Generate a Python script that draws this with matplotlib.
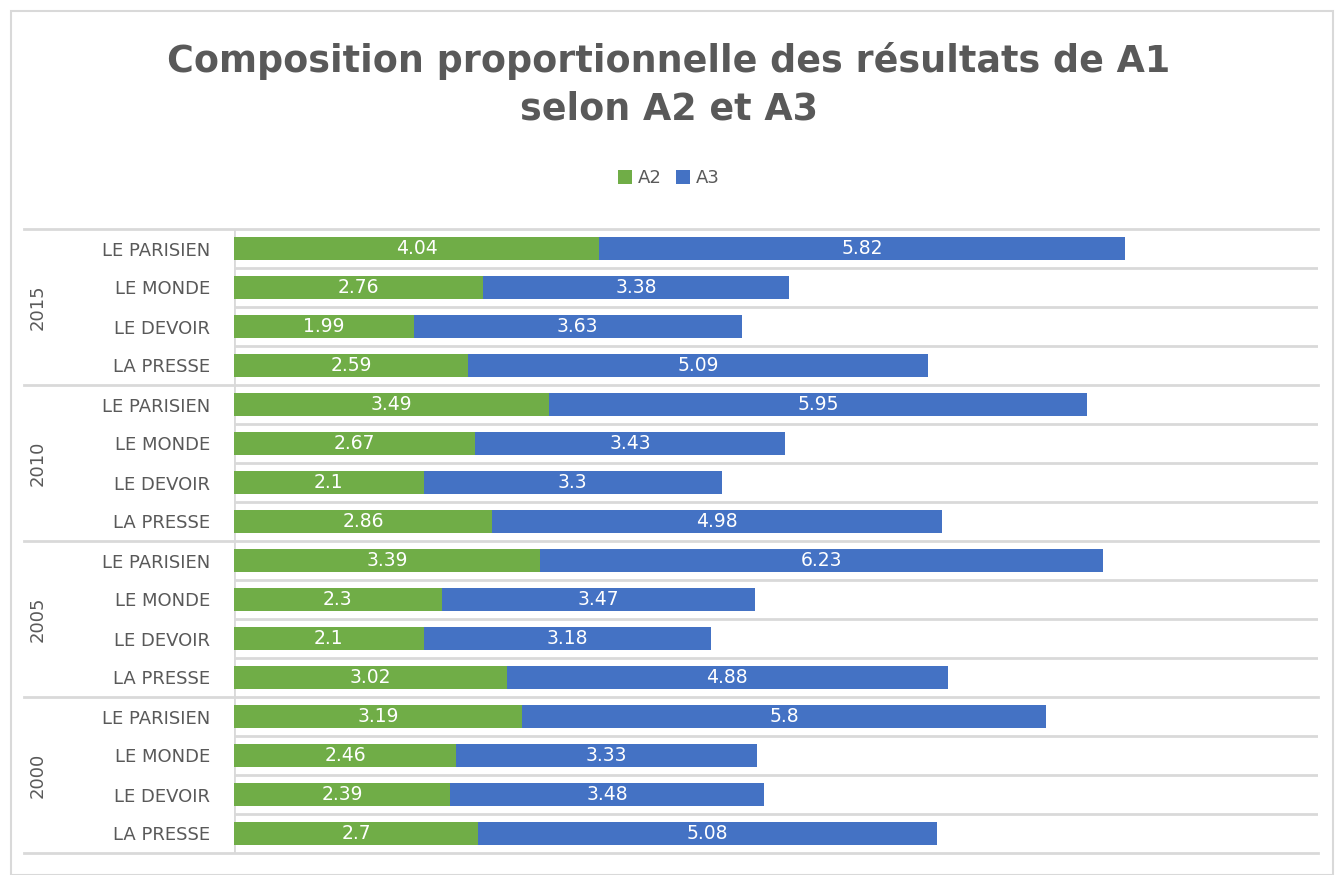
import numpy as np
import matplotlib.pyplot as plt
from matplotlib.patches import Rectangle

# data, top group first (as displayed)
years = ['2015', '2010', '2005', '2000']
journaux = ['LE PARISIEN', 'LE MONDE', 'LE DEVOIR', 'LA PRESSE']
a2 = [[4.04, 2.76, 1.99, 2.59],
      [3.49, 2.67, 2.1, 2.86],
      [3.39, 2.3, 2.1, 3.02],
      [3.19, 2.46, 2.39, 2.7]]
a3 = [[5.82, 3.38, 3.63, 5.09],
      [5.95, 3.43, 3.3, 4.98],
      [6.23, 3.47, 3.18, 4.88],
      [5.8, 3.33, 3.48, 5.08]]

green = '#70AD47'
blue = '#4472C4'
grid = '#D9D9D9'
txt = '#595959'

fig = plt.figure(figsize=(13.37, 8.75), dpi=100)
fig.patches.append(Rectangle((11/1337, 0), 1 - 15/1337, 1 - 11/875, transform=fig.transFigure,
                             fill=False, edgecolor=grid, lw=1.5))
ax = fig.add_axes([234/1337, 1 - 853/875, (1318 - 234)/1337, (853 - 229)/875])

n = len(years) * len(journaux)
v2, v3, labs, ypos = [], [], [], []
for g in range(len(years)):
    for j in range(len(journaux)):
        v2.append(a2[g][j])
        v3.append(a3[g][j])
        labs.append(journaux[j])
        ypos.append(n - 1 - (g * len(journaux) + j))
v2 = np.array(v2); v3 = np.array(v3); ypos = np.array(ypos)

b1 = ax.barh(ypos, v2, height=0.57, color=green, label='A2', zorder=3)
b2 = ax.barh(ypos, v3, left=v2, height=0.57, color=blue, label='A3', zorder=3)
for bars, vals in ((b1, v2), (b2, v3)):
    ax.bar_label(bars, labels=['%g' % v for v in vals], label_type='center',
                 color='white', fontsize=13.5, zorder=4)

ax.set_xlim(0, 12)
ax.set_ylim(-0.5, n - 0.5)
ax.set_xticks([])
ax.set_yticks(ypos)
ax.set_yticklabels(labs, fontsize=13, color=txt)
ax.tick_params(axis='y', length=0, pad=17)
for s in ax.spines.values():
    s.set_visible(False)
ax.axvline(0, color=grid, lw=2, zorder=2)

# row separators
for k in range(n + 1):
    y = k - 0.5
    if k % len(journaux) == 0:
        ax.plot([-0.194, 1], [y, y], transform=ax.get_yaxis_transform(),
                color=grid, lw=2, clip_on=False, zorder=1)
    else:
        ax.axhline(y, color=grid, lw=2, zorder=1)

# year labels
for g, yr in enumerate(years):
    yc = n - 1 - (g * len(journaux) + 1.5)
    ax.text(-0.181, yc, yr, transform=ax.get_yaxis_transform(), rotation=90,
            ha='center', va='center', fontsize=13, color=txt)

fig.text(0.5, 1 - 85/875, 'Composition proportionnelle des résultats de A1\nselon A2 et A3',
         ha='center', va='center', fontsize=26.3, fontweight='bold', color=txt, linespacing=1.35)
fig.legend(handles=[b1, b2], loc='center', bbox_to_anchor=(0.5, 1 - 178/875), ncol=2,
           frameon=False, fontsize=13, labelcolor=txt, handlelength=0.8, handleheight=0.8,
           columnspacing=0.8, handletextpad=0.3)

fig.savefig('out.png', dpi=100)
